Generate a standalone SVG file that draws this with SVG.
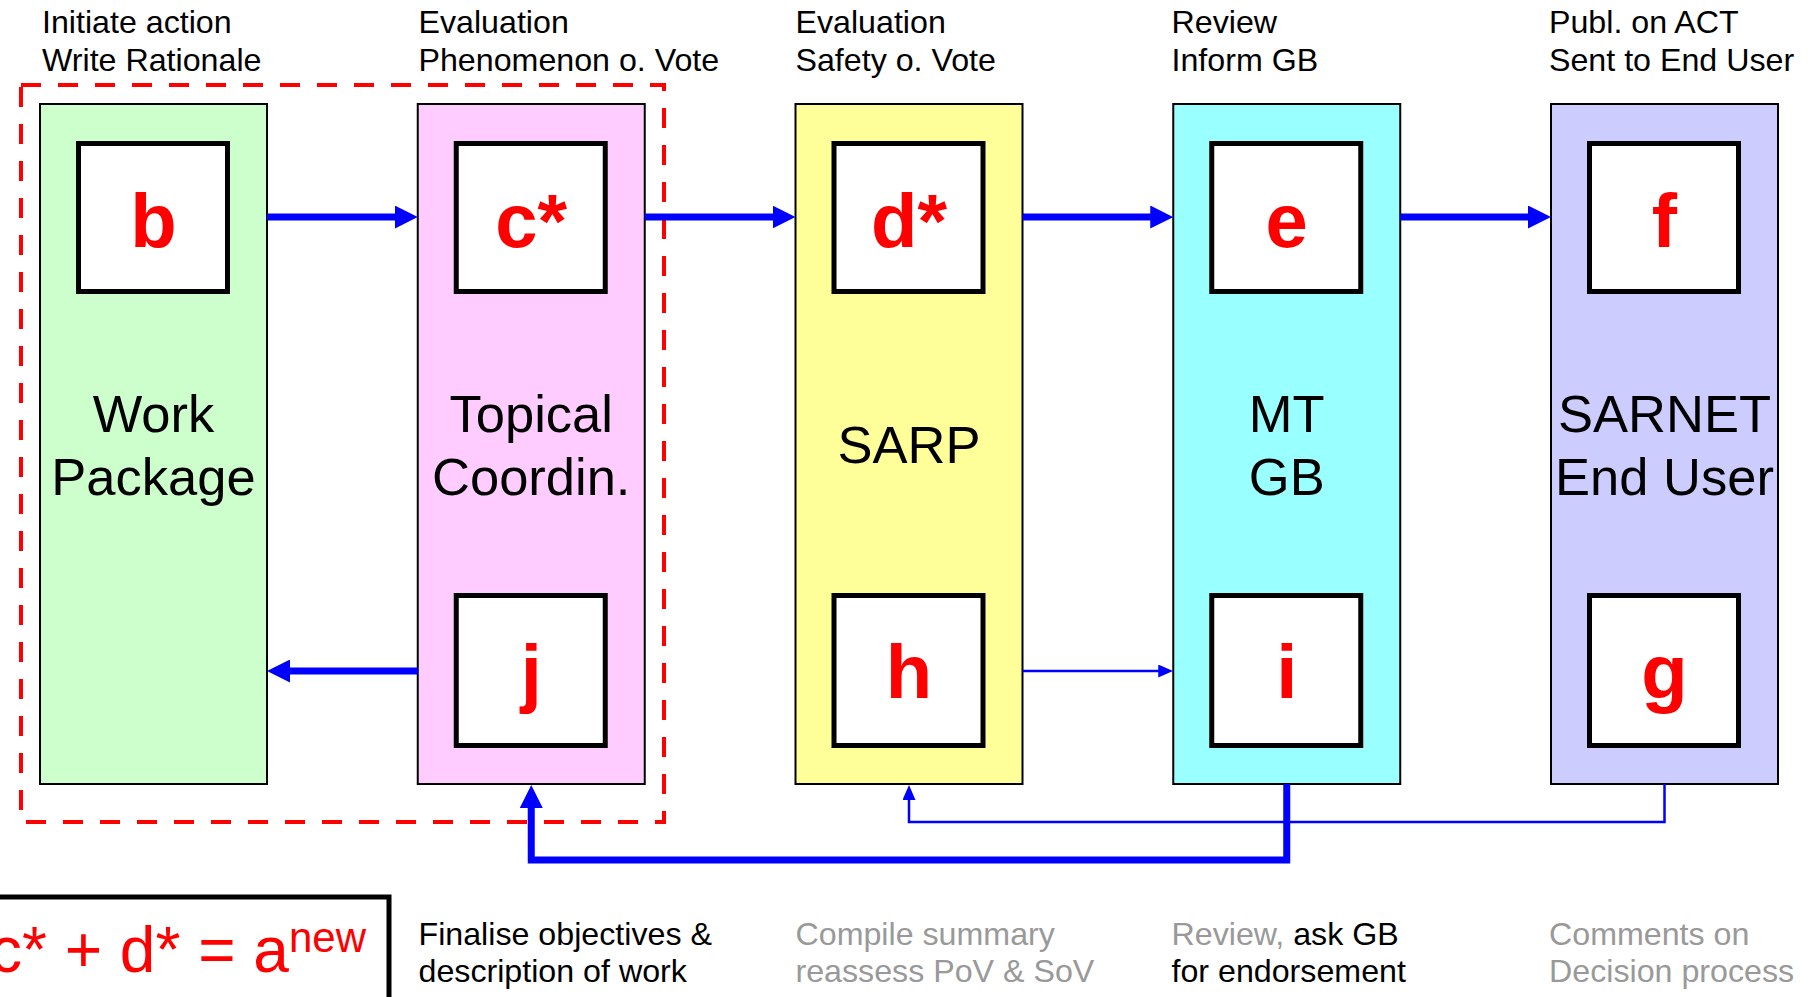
<svg xmlns="http://www.w3.org/2000/svg" width="1812" height="997" viewBox="0 0 1812 997">
<defs>
<style>
text{font-family:"Liberation Sans",Arial,sans-serif}
.hdr{font-size:32.2px;fill:#000}
.gry{fill:#999999}
.lbl{font-size:52.5px;fill:#000;text-anchor:middle}
.let{font-size:76px;font-weight:bold;fill:#ff0000;text-anchor:middle}
.outer{stroke:#000;stroke-width:2}
.inner{fill:#fff;stroke:#000;stroke-width:5}
.thick{stroke:#0000ff;stroke-width:7;fill:none}
.thin{stroke:#0000ff;stroke-width:2.5;fill:none}
</style>
<marker id="ah" viewBox="0 0 23 23" refX="1" refY="11.5" markerWidth="23" markerHeight="23" markerUnits="userSpaceOnUse" orient="auto"><path d="M0,0 L23,11.5 L0,23 z" fill="#0000ff"/></marker>
<marker id="ahs" viewBox="0 0 15 13" refX="1" refY="6.5" markerWidth="15" markerHeight="13" markerUnits="userSpaceOnUse" orient="auto"><path d="M0,0 L15,6.5 L0,13 z" fill="#0000ff"/></marker>
</defs>
<rect width="1812" height="997" fill="#fff"/>

<g id="headers">
<text class="hdr" x="42" y="33">Initiate action</text>
<text class="hdr" x="42" y="71">Write Rationale</text>
<text class="hdr" x="418.5" y="33">Evaluation</text>
<text class="hdr" x="418.5" y="71">Phenomenon o. Vote</text>
<text class="hdr" x="795.5" y="33">Evaluation</text>
<text class="hdr" x="795.5" y="71">Safety o. Vote</text>
<text class="hdr" x="1171.5" y="33">Review</text>
<text class="hdr" x="1171.5" y="71">Inform GB</text>
<text class="hdr" x="1549" y="33">Publ. on ACT</text>
<text class="hdr" x="1549" y="71">Sent to End User</text>
</g>

<g id="group-frame">
<rect x="21" y="85" width="643" height="737" fill="none" stroke="#ff0000" stroke-width="4" stroke-dasharray="20 17"/>
</g>

<g id="node-workpackage">
<rect class="outer" x="40" y="104" width="227" height="680" fill="#ccffcc"/>
<rect class="inner" x="78.5" y="143.5" width="149" height="148"/>
<text class="let" x="153.5" y="247">b</text>
<text class="lbl" x="153.5" y="432">Work</text>
<text class="lbl" x="153.5" y="495">Package</text>
</g>

<g id="node-topical">
<rect class="outer" x="417.75" y="104" width="227" height="680" fill="#ffccff"/>
<rect class="inner" x="456.25" y="143.5" width="149" height="148"/>
<text class="let" x="531.25" y="247">c*</text>
<rect class="inner" x="456.25" y="595.5" width="149" height="150"/>
<text class="let" x="531.25" y="698">j</text>
<text class="lbl" x="531.25" y="432">Topical</text>
<text class="lbl" x="531.25" y="495">Coordin.</text>
</g>

<g id="node-sarp">
<rect class="outer" x="795.5" y="104" width="227" height="680" fill="#ffff99"/>
<rect class="inner" x="834" y="143.5" width="149" height="148"/>
<text class="let" x="909" y="247">d*</text>
<rect class="inner" x="834" y="595.5" width="149" height="150"/>
<text class="let" x="909" y="698">h</text>
<text class="lbl" x="909" y="463">SARP</text>
</g>

<g id="node-mtgb">
<rect class="outer" x="1173.25" y="104" width="227" height="680" fill="#99ffff"/>
<rect class="inner" x="1211.75" y="143.5" width="149" height="148"/>
<text class="let" x="1286.75" y="247">e</text>
<rect class="inner" x="1211.75" y="595.5" width="149" height="150"/>
<text class="let" x="1286.75" y="698">i</text>
<text class="lbl" x="1286.75" y="432">MT</text>
<text class="lbl" x="1286.75" y="495">GB</text>
</g>

<g id="node-sarnet">
<rect class="outer" x="1551" y="104" width="227" height="680" fill="#ccccff"/>
<rect class="inner" x="1589.5" y="143.5" width="149" height="148"/>
<text class="let" x="1664.5" y="247">f</text>
<rect class="inner" x="1589.5" y="595.5" width="149" height="150"/>
<text class="let" x="1664.5" y="698">g</text>
<text class="lbl" x="1664.5" y="432">SARNET</text>
<text class="lbl" x="1664.5" y="495">End User</text>
</g>

<g id="connectors">
<line class="thick" x1="267" y1="217" x2="395.75" y2="217" marker-end="url(#ah)"/>
<line class="thick" x1="644.75" y1="217" x2="773.5" y2="217" marker-end="url(#ah)"/>
<line class="thick" x1="1022.5" y1="217" x2="1151.25" y2="217" marker-end="url(#ah)"/>
<line class="thick" x1="1400.25" y1="217" x2="1529" y2="217" marker-end="url(#ah)"/>
<line class="thick" x1="417.75" y1="671" x2="289" y2="671" marker-end="url(#ah)"/>
<line class="thin" x1="1022.5" y1="671" x2="1159.25" y2="671" marker-end="url(#ahs)"/>
<polyline class="thin" points="1664.5,784 1664.5,822 909,822 909,799" marker-end="url(#ahs)"/>
<polyline class="thick" points="1286.75,784 1286.75,860 531.25,860 531.25,807" marker-end="url(#ah)"/>
</g>

<g id="formula">
<rect x="-10" y="897" width="399" height="120" fill="#fff" stroke="#000" stroke-width="5"/>
<text x="-10" y="972" font-size="64" fill="#ff0000">c* + d* = a</text>
<text x="289" y="952" font-size="42" fill="#ff0000">new</text>
</g>

<g id="footers">
<text class="hdr" x="418.5" y="945">Finalise objectives &amp;</text>
<text class="hdr" x="418.5" y="982">description of work</text>
<text class="hdr gry" x="795.5" y="945">Compile summary</text>
<text class="hdr gry" x="795.5" y="982">reassess PoV &amp; SoV</text>
<text class="hdr" x="1171.5" y="945"><tspan class="gry">Review,</tspan> ask GB</text>
<text class="hdr" x="1171.5" y="982">for endorsement</text>
<text class="hdr gry" x="1549" y="945">Comments on</text>
<text class="hdr gry" x="1549" y="982">Decision process</text>
</g>
</svg>
